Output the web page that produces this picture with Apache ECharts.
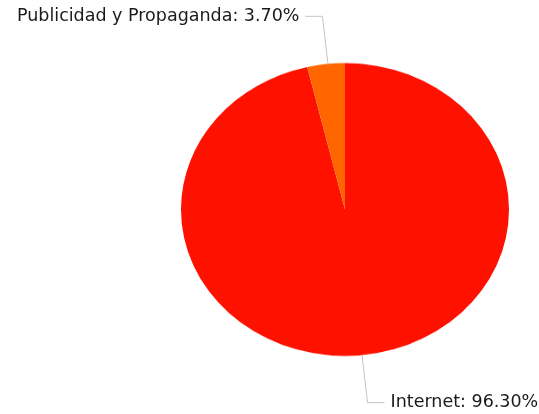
<!DOCTYPE html>
<html>
<head>
<meta charset="utf-8">
<script src="https://cdn.jsdelivr.net/npm/echarts@6/dist/echarts.min.js"></script>
<style>
html,body{margin:0;padding:0;background:#fff;}
#wrap{position:relative;width:539px;height:414px;overflow:hidden;}
#pie,#lab{position:absolute;left:0;top:0;width:539px;height:414px;}
#pie{transform:scaleY(0.893);transform-origin:0 209.5px;}
</style>
</head>
<body>
<div id="wrap"><div id="pie"></div><div id="lab"></div></div>
<script>
const categories = ['Internet', 'Publicidad y Propaganda'];
const values = [96.30, 3.70];
const colors = ['#ff1100', '#ff6600'];

const data = categories.map((c, i) => ({ name: c, value: values[i], itemStyle: { color: colors[i] } }));

const pieChart = echarts.init(document.getElementById('pie'), null, { renderer: 'canvas' });
pieChart.setOption({
  animation: false,
  series: [{
    type: 'pie',
    center: [345, 209.5],
    radius: 164,
    startAngle: 90,
    clockwise: true,
    silent: true,
    label: { show: false },
    labelLine: { show: false },
    data: data
  }]
});

const labChart = echarts.init(document.getElementById('lab'), null, { renderer: 'canvas' });
labChart.setOption({
  animation: false,
  series: [{
    type: 'pie',
    center: [345, 209.5],
    radius: 146.5,
    startAngle: 90,
    clockwise: true,
    silent: true,
    avoidLabelOverlap: false,
    itemStyle: { color: 'rgba(0,0,0,0)' },
    label: {
      show: true,
      formatter: p => p.name + ': ' + p.value.toFixed(2) + '%',
      fontFamily: 'DejaVu Sans',
      fontSize: 17.5,
      color: '#1a1a1a',
      distanceToLabelLine: 6
    },
    labelLine: {
      show: true,
      length: 48,
      length2: 17,
      lineStyle: { color: '#c4c4c4', width: 1 }
    },
    data: categories.map((c, i) => ({ name: c, value: values[i] }))
  }]
});
</script>
</body>
</html>
